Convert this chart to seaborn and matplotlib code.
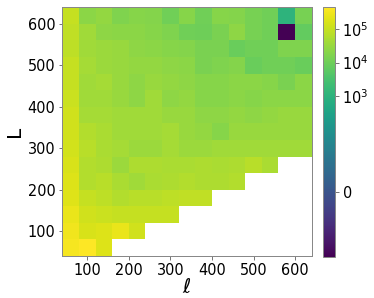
import numpy as np
import pandas as pd
import matplotlib
matplotlib.use("Agg")
import matplotlib.pyplot as plt
import seaborn as sns
from matplotlib.colors import SymLogNorm

# bin edges (multipole ell on x, L on y)
ell_edges = [40, 80, 120, 160, 200, 240, 280, 320, 360, 400, 440, 480, 520, 560, 600, 640]
L_edges = [40, 80, 120, 160, 200, 240, 280, 320, 360, 400, 440, 480, 520, 560, 600, 640]
xtick_vals = [100, 200, 300, 400, 500, 600]
ytick_vals = [100, 200, 300, 400, 500, 600]
cbar_tick_vals = [0, 1e3, 1e4, 1e5]

nan = np.nan
# rows: L bins from 40-80 (bottom) to 600-640 (top); columns: ell bins 40-80 ... 600-640
row_40 = [3.5e5, 4.5e5, 1.8e5, nan, nan, nan, nan, nan, nan, nan, nan, nan, nan, nan, nan]
row_80 = [3.2e5, 1.6e5, 1.8e5, 2.5e5, 1.3e5, nan, nan, nan, nan, nan, nan, nan, nan, nan, nan]
row_120 = [2.5e5, 1.3e5, 1.1e5, 1.0e5, 1.0e5, 1.0e5, 1.0e5, nan, nan, nan, nan, nan, nan, nan, nan]
row_160 = [2.0e5, 1.0e5, 7.9e4, 6.3e4, 7.1e4, 7.1e4, 7.9e4, 8.9e4, 8.9e4, nan, nan, nan, nan, nan, nan]
row_200 = [1.8e5, 6.3e4, 7.1e4, 5.0e4, 4.0e4, 5.0e4, 5.6e4, 6.3e4, 5.6e4, 5.6e4, 6.3e4, nan, nan, nan, nan]
row_240 = [1.6e5, 6.3e4, 5.6e4, 3.5e4, 5.6e4, 5.6e4, 5.0e4, 5.0e4, 5.6e4, 5.0e4, 5.6e4, 7.1e4, 5.0e4, nan, nan]
row_280 = [1.4e5, 7.1e4, 5.0e4, 4.5e4, 3.5e4, 3.5e4, 4.5e4, 3.5e4, 3.5e4, 4.0e4, 4.0e4, 4.0e4, 4.0e4, 4.0e4, 4.0e4]
row_320 = [1.3e5, 6.3e4, 5.0e4, 4.0e4, 4.0e4, 4.0e4, 4.5e4, 3.2e4, 2.8e4, 2.0e4, 3.2e4, 3.2e4, 3.2e4, 3.2e4, 3.2e4]
row_360 = [1.3e5, 4.5e4, 4.5e4, 4.0e4, 4.0e4, 4.0e4, 3.2e4, 3.2e4, 2.5e4, 2.5e4, 2.8e4, 2.5e4, 2.8e4, 3.2e4, 3.2e4]
row_400 = [1.1e5, 4.0e4, 4.0e4, 3.2e4, 2.5e4, 4.0e4, 2.5e4, 2.8e4, 2.0e4, 2.0e4, 2.2e4, 2.0e4, 2.2e4, 2.2e4, 2.2e4]
row_440 = [1.0e5, 4.0e4, 4.5e4, 3.2e4, 2.5e4, 3.2e4, 2.8e4, 2.5e4, 2.0e4, 2.0e4, 2.2e4, 2.2e4, 2.0e4, 1.4e4, 2.2e4]
row_480 = [1.0e5, 4.5e4, 3.5e4, 3.2e4, 2.8e4, 2.8e4, 2.5e4, 2.2e4, 1.4e4, 1.6e4, 1.8e4, 8.9e3, 1.1e4, 1.1e4, 8.9e3]
row_520 = [7.9e4, 4.0e4, 3.5e4, 3.2e4, 2.5e4, 2.2e4, 2.0e4, 1.8e4, 1.4e4, 1.4e4, 8.9e3, 1.1e4, 1.1e4, 1.6e4, 1.6e4]
row_560 = [8.9e4, 4.0e4, 2.5e4, 2.2e4, 2.2e4, 2.0e4, 1.6e4, 1.1e4, 1.0e4, 1.4e4, 2.5e4, 1.3e4, 1.1e4, -6.8e2, 7.1e3]
row_600 = [1.0e5, 2.2e4, 2.8e4, 1.6e4, 2.0e4, 1.8e4, 1.1e4, 2.0e4, 1.1e4, 2.0e4, 1.8e4, 1.3e4, 1.1e4, 1.0e3, 1.3e4]

rows = [row_40, row_80, row_120, row_160, row_200, row_240, row_280, row_320,
        row_360, row_400, row_440, row_480, row_520, row_560, row_600]
data = np.array(rows, dtype=float)
df = pd.DataFrame(data, index=L_edges[:-1], columns=ell_edges[:-1])

W, H, DPI = 374, 298, 72
fig = plt.figure(figsize=(W / DPI, H / DPI), dpi=DPI)
ax = fig.add_axes([62.3 / W, (H - 256.0) / H, 249.4 / W, 248.7 / H])
cax = fig.add_axes([322.7 / W, (H - 256.7) / H, 12.3 / W, 249.4 / H])

norm = SymLogNorm(linthresh=1000, linscale=2.58, base=10,
                  vmin=np.nanmin(data), vmax=np.nanmax(data))
sns.heatmap(df, ax=ax, cbar_ax=cax, cmap="viridis", norm=norm,
            xticklabels=False, yticklabels=False)
ax.set_ylim(0, len(L_edges) - 1)
ax.set_xlim(0, len(ell_edges) - 1)

bw = ell_edges[1] - ell_edges[0]
ax.set_xticks([(v - ell_edges[0]) / bw for v in xtick_vals])
ax.set_xticklabels([str(v) for v in xtick_vals])
ax.set_yticks([(v - L_edges[0]) / bw for v in ytick_vals])
ax.set_yticklabels([str(v) for v in ytick_vals], rotation=0)

ax.tick_params(axis="both", labelsize=14.5, length=3.5, width=0.8, color="#555555",
               bottom=True, left=True)
for s in ax.spines.values():
    s.set_visible(True)
    s.set_color("#888888")
    s.set_linewidth(1.0)

cb = ax.collections[0].colorbar
cb.set_ticks(cbar_tick_vals)
cb.minorticks_off()
cb.outline.set_linewidth(1.0)
cb.outline.set_edgecolor("#888888")
cax.tick_params(labelsize=14.5, length=3.5, width=0.8, color="#555555")

ax.set_xlabel(r"$\ell$", fontsize=20, labelpad=0)
ax.set_ylabel("L", fontsize=20)

fig.savefig("out.png", dpi=DPI)
